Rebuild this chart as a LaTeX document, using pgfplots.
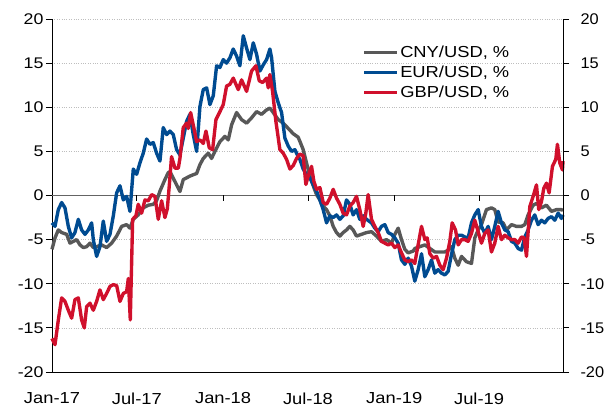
\documentclass[border=0pt]{standalone}
\usepackage{pgfplots}
\pgfplotsset{compat=1.18}
\usepackage{pgfplotstable}
\usepackage{graphicx}
\usepackage{fontspec}
\setmainfont{Liberation Sans}
\newcommand{\wx}[1]{\scalebox{1.15}[1]{#1}}
\newcommand{\wrlab}[1]{\scalebox{1.06}[1]{#1}}
\definecolor{cnyc}{RGB}{88,88,88}
\definecolor{eurc}{RGB}{0,75,145}
\definecolor{gbpc}{RGB}{208,16,44}
\definecolor{gridc}{RGB}{190,190,190}
\definecolor{zeroc}{RGB}{100,100,100}

\pgfplotstableread{
x y
0 -6.1
6.4 -4.8
13.5 -3.9
20.6 -4.2
31.3 -4.4
38.4 -5.4
45.5 -5.2
52.6 -5.0
59.7 -5.6
66.8 -5.9
73.9 -5.8
81 -5.4
88.1 -5.9
95.2 -5.8
105.9 -5.6
116.5 -5.9
127.2 -5.4
137.9 -4.6
148.6 -3.5
159.2 -3.3
166.3 -3.7
173.4 -2.7
184 -2.2
194.7 -1.4
205.4 -1.1
216 -1.0
223.1 -0.6
230.3 0.5
240.9 1.8
248 2.6
251.6 2.7
265.8 1.2
272.9 0.45
280 1.8
294.2 2.2
308.5 2.5
315.6 3.5
322.7 4.2
333.3 4.8
340.4 4.2
347.5 5.0
358.2 6.1
368.9 6.7
376 6.3
383.1 8.0
393.7 9.4
404.4 8.6
415.1 8.2
425.7 8.8
436.4 9.5
447 9.2
457.7 9.7
464.8 9.9
471.9 9.4
482.6 8.6
493.2 8.2
503.9 7.6
514.6 7.0
525.2 6.6
535.8 5.2
542.9 3.7
550 2.2
557.2 1.1
564.3 0.1
571.4 -0.5
578.5 -1.2
585.6 -1.6
592.7 -2.3
599.8 -3.5
606.9 -4.2
614 -4.6
621.1 -4.2
628.2 -3.9
635.3 -3.5
642.4 -3.9
649.5 -4.6
660.2 -4.4
670.9 -4.2
681.5 -4.1
692.2 -4.6
702.8 -5.2
713.5 -5.0
724.2 -5.4
731.3 -4.4
738.4 -3.7
745.5 -5.0
752.6 -6.1
759.7 -6.5
770.4 -6.3
774 -6.0
784.6 -5.8
795.3 -5.6
806 -6.0
816.6 -6.4
827.3 -6.4
837.9 -6.4
845 -6.2
852.1 -5.8
859.2 -7.1
866.4 -7.9
873.5 -6.9
884.1 -7.5
894.8 -7.7
901.9 -4.8
909 -3.9
916.1 -3.3
926.8 -1.6
937.4 -1.4
944.5 -1.6
951.6 -3.0
962.3 -3.1
969.4 -3.9
980.1 -3.3
990.7 -3.5
1001.4 -3.5
1008.5 -3.3
1015.6 -2.2
1026.3 -1.1
1033.4 -0.9
1044 -1.4
1054.7 -1.1
1065.4 -1.8
1076 -1.6
1086.7 -1.6
1090 -1.7
}\cny

\pgfplotstableread{
x y
0 -3.1
6.4 -3.5
13.5 -1.6
20.6 -0.8
27.7 -1.4
34.8 -3.5
41.9 -4.8
49 -4.2
56.1 -2.7
63.2 -3.9
70.4 -4.4
77.5 -3.9
84.6 -3.1
88.1 -5.0
95.2 -6.9
102.3 -5.8
109.4 -2.9
116.5 -5.2
123.7 -4.4
130.8 -2.3
137.9 0.3
145 1.1
152.1 -0.5
159.2 -0.1
166.3 -1.8
173.4 3.0
180.5 2.4
187.6 3.7
194.7 4.8
201.8 6.4
208.9 5.8
216 6.0
223.1 4.8
230.3 3.9
237.3 7.7
244.5 6.9
251.6 7.3
258.7 6.9
265.8 5.2
272.9 4.6
280 6.5
287.1 8.4
294.2 9.2
301.3 6.9
308.5 5.0
315.6 10.1
322.7 12.0
329.8 12.2
336.9 10.3
344 11.3
351.1 14.7
358.2 14.5
365.3 15.4
372.4 15.0
379.5 15.6
386.6 16.6
393.7 15.8
400.8 14.7
408 18.1
415.1 16.7
422.2 15.4
429.3 17.3
436.4 16.0
443.5 14.1
450.6 14.8
457.7 15.4
464.8 16.6
468.4 15.6
475.5 11.8
482.6 10.5
489.7 9.4
496.8 6.5
503.9 5.6
511 5.0
518.1 5.2
525.2 4.4
528.7 4.1
535.8 3.0
542.9 2.4
550 2.0
557.2 1.25
564.3 0.5
571.4 -0.5
578.5 -1.6
585.6 -3.1
592.7 -2.3
599.8 -2.5
606.9 -2.2
614 -2.7
621.1 -2.3
628.2 -0.5
635.3 -1.0
642.4 -2.2
649.5 -1.6
656.6 -2.7
663.8 -2.3
670.9 -2.7
681.5 -3.1
688.6 -3.7
695.7 -4.1
702.8 -3.5
710 -3.3
717.1 -4.2
724.2 -4.4
731.3 -4.8
738.4 -5.4
745.5 -7.3
752.6 -7.8
759.7 -7.1
766.8 -8.0
773.9 -9.7
781.1 -8.4
788.2 -6.6
795.3 -9.2
802.4 -8.4
809.5 -7.3
816.6 -8.8
823.7 -8.4
830.8 -8.8
837.9 -9.0
845 -8.6
852.1 -6.7
859.2 -5.0
866.4 -4.5
873.5 -4.5
880.6 -4.7
887.7 -4.8
894.8 -3.1
901.9 -2.2
909 -1.6
916.1 -3.5
923.2 -4.3
930.3 -3.5
937.4 -5.0
944.5 -3.5
951.6 -1.8
958.7 -3.1
965.9 -3.9
973 -4.1
980.1 -5.2
987.2 -5.4
994.3 -6.0
1001.4 -6.2
1008.5 -4.7
1015.6 -3.9
1022.7 -2.8
1029.8 -2.2
1036.9 -3.3
1044 -2.8
1051.1 -3.1
1058.2 -2.6
1065.4 -2.4
1072.5 -2.8
1079.6 -2.0
1086.7 -2.6
1090 -2.2
}\eur

\pgfplotstableread{
x y
0 -16.2
6.4 -16.9
13.5 -14.1
20.6 -11.6
27.7 -12.0
34.8 -13.0
41.9 -13.9
49 -11.8
56.1 -11.6
63.2 -14.1
68.9 -15.0
73.9 -12.6
81 -12.2
88.1 -13.0
95.2 -12.0
102.3 -10.7
109.4 -11.8
116.5 -11.1
123.7 -10.3
130.8 -10.1
137.9 -10.2
145 -12.0
152.1 -11.1
159.2 -10.9
162.8 -9.4
167 -14.1
172 -2.7
179 -2.3
184 -1.0
191.1 -2.0
198.3 -0.5
205.4 -0.6
212.5 0.1
219.6 -0.1
226.7 -2.7
233.8 -0.6
240.9 -2.5
246 -1.5
250 1.0
255 4.4
262.3 3.1
269.4 3.1
272.9 4.2
280 7.7
287.1 8.2
290.7 7.6
295.7 9.4
301.3 8.0
308.5 6.1
315.6 6.3
322.7 5.9
328.4 7.3
335.5 5.4
342.6 5.2
349.7 8.6
358.2 9.5
365.3 10.3
372.4 12.4
379.5 12.6
386.6 13.3
397.3 12.0
404.4 13.1
415.1 11.8
425.7 14.1
435 14.7
442.1 13.0
449.2 12.8
457.7 13.3
461.3 12.2
464.8 13.7
470.5 11.8
477.6 8.4
486.1 5.2
493.2 4.8
500.3 4.1
507.5 3.0
514.6 3.4
521.7 4.2
528.8 4.7
535.8 4.5
541.5 1.25
546.5 2.2
553.6 3.3
558.6 1.6
564.3 0.7
571.4 0.9
578.5 -0.8
585.6 -1.0
592.7 -0.3
599.8 0.7
606.9 -0.3
614 -1.0
621.1 -2.0
628.2 -2.2
635.3 -1.2
642.4 -0.8
649.5 -0.1
656.6 -1.6
663.8 -3.5
669.4 -2.0
674.4 0.1
681.5 -2.7
688.6 -3.5
695.7 -4.2
702.8 -5.2
710 -5.4
717.1 -5.6
724.2 -5.4
731.3 -5.9
738.4 -5.6
745.5 -6.5
752.6 -7.3
759.7 -7.5
766.8 -7.3
773.9 -7.7
777.5 -6.6
788.2 -3.5
795.3 -5.0
800.3 -4.8
806 -6.6
813.1 -7.1
820.2 -6.9
827.3 -7.9
834.4 -8.4
841.5 -7.1
848.6 -5.2
853.6 -3.1
860.7 -3.9
866.4 -5.6
873.5 -5.0
880.6 -5.0
887.7 -5.2
894.8 -4.3
901.9 -2.8
909 -4.1
916.1 -5.4
923.2 -4.3
930.3 -3.9
937.4 -6.4
944.5 -5.4
951.6 -3.5
958.7 -5.0
965.9 -4.5
973 -4.8
980.1 -5.0
987.2 -5.0
994.3 -5.4
1001.4 -4.7
1007.1 -4.8
1012.1 -6.9
1019.2 -1.25
1026.3 -0.1
1033.4 1.2
1038.3 -1.6
1044 -0.7
1049 0.8
1054.7 1.4
1060.4 0.3
1067.5 3.3
1074.6 4.1
1078.1 5.8
1083.1 3.7
1088.8 2.9
1090 3.9
}\gbp

\begin{document}
\begin{tikzpicture}
\path[use as bounding box] (-52bp,-35bp) rectangle (556bp,372bp);
\begin{axis}[
  scale only axis, width=511bp, height=353bp,
  xmin=0, xmax=1090, ymin=-20, ymax=20,
  axis x line*=bottom, axis y line*=left,
  axis line style={black, line width=0.9pt},
  xtick={0,181,365,546,730,911},
  xticklabels={\wx{Jan-17},\wx{Jul-17},\wx{Jan-18},\wx{Jul-18},\wx{Jan-19},\wx{Jul-19}},
  xtick style={draw=none},
  ytick={-20,-15,-10,-5,0,5,10,15,20},
  yticklabels={\wx{-20},\wx{-15},\wx{-10},\wx{-5},\wx{0},\wx{5},\wx{10},\wx{15},\wx{20}},
  tick align=outside,
  ytick style={black, line width=0.8pt},
  major tick length=6bp,
  ymajorgrids, grid style={gridc, dotted, line width=0.7pt},
  ticklabel style={font=\fontsize{16}{18}\selectfont},
  yticklabel style={font=\fontsize{15.5}{18}\selectfont},
  xticklabel style={yshift=-11bp},
  yticklabel style={xshift=1bp},
  legend style={draw=none, fill=none, at={(0.607,0.928)}, anchor=north west,
    inner sep=0pt, row sep=4pt, font=\fontsize{16}{18}\selectfont,
    nodes={inner sep=1.5bp}},
  legend cell align=left,
  legend image code/.code={\draw[#1] (0bp,0bp) -- (33bp,0bp);},
  clip=false,
]
\draw[zeroc, line width=1.8pt] (axis cs:0,0) -- (axis cs:1090,0);
\draw[black, line width=0.8pt] (axis cs:181,0) -- ([yshift=-5bp]axis cs:181,0);
\draw[black, line width=0.8pt] (axis cs:365,0) -- ([yshift=-5bp]axis cs:365,0);
\draw[black, line width=0.8pt] (axis cs:546,0) -- ([yshift=-5bp]axis cs:546,0);
\draw[black, line width=0.8pt] (axis cs:730,0) -- ([yshift=-5bp]axis cs:730,0);
\draw[black, line width=0.8pt] (axis cs:911,0) -- ([yshift=-5bp]axis cs:911,0);
\addplot[cnyc, line width=3.4pt, line join=round] table[x=x,y=y] {\cny};
\addlegendentry{\wx{CNY/USD, \%}}
\addplot[eurc, line width=3.4pt, line join=round] table[x=x,y=y] {\eur};
\addlegendentry{\wx{EUR/USD, \%}}
\addplot[gbpc, line width=3.4pt, line join=round] table[x=x,y=y] {\gbp};
\addlegendentry{\wx{GBP/USD, \%}}
\end{axis}
\begin{axis}[
  scale only axis, width=511bp, height=353bp,
  xmin=0, xmax=1090, ymin=-20, ymax=20,
  axis x line=none, axis y line*=right,
  axis line style={black, line width=0.9pt},
  ytick={-20,-15,-10,-5,0,5,10,15,20},
  yticklabels={\wrlab{-20},\wrlab{-15},\wrlab{-10},\wrlab{-5},\wrlab{0},\wrlab{5},\wrlab{10},\wrlab{15},\wrlab{20}},
  tick align=outside,
  ytick style={black, line width=0.8pt},
  major tick length=6bp,
  ticklabel style={font=\fontsize{15.5}{18}\selectfont},
  yticklabel style={xshift=8bp},
]
\end{axis}
\end{tikzpicture}
\end{document}
